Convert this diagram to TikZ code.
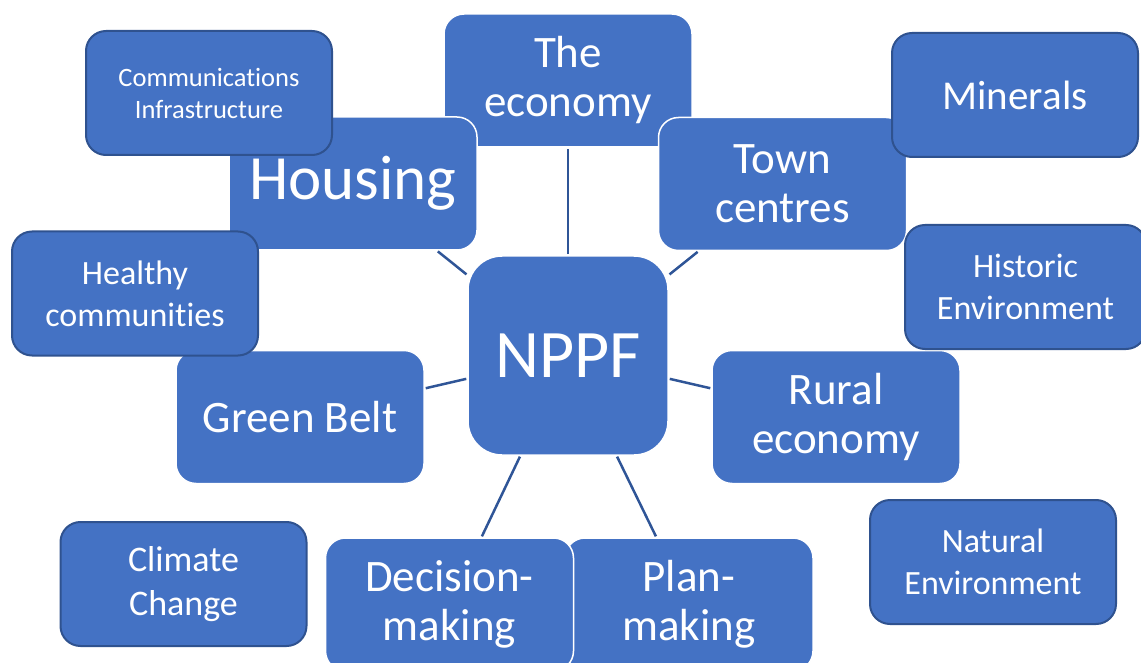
\documentclass[tikz,border=0pt]{standalone}
\usepackage{fontspec}
\setmainfont{Carlito}[Ligatures=NoCommon, RawFeature={-liga;-calt}]
\definecolor{boxblue}{HTML}{4472C4}
\definecolor{edgeblue}{HTML}{2F528F}
\definecolor{linkblue}{HTML}{2F5597}
\tikzstyle{topic} = [fill=boxblue, draw=white, line width=1.5pt, rounded corners=20pt, text=white, align=center, minimum width=248pt, minimum height=133pt, inner sep=0pt]
\tikzstyle{centre} = [topic, minimum width=200pt, minimum height=199pt, rounded corners=34pt]
\tikzstyle{extra} = [fill=boxblue, draw=edgeblue, line width=2pt, rounded corners=20pt, text=white, align=center, minimum width=246pt, minimum height=124pt, inner sep=0pt]
\tikzstyle{link} = [draw=linkblue, line width=2.5pt, shorten <=1pt, shorten >=1pt]
\tikzstyle{bigtext} = [font=\fontsize{45}{49}\selectfont]
\tikzstyle{smalltext} = [font=\fontsize{34}{42}\selectfont]

\begin{document}
\begin{tikzpicture}[x=1pt, y=-1pt]
	\useasboundingbox (0,0) rectangle (1141,663);
	\clip (0,0) rectangle (1141,663);
	% spokes round the centre
	\node [topic, bigtext] (economy) at (568,80.5) {The\\economy};
	\node [topic, bigtext] (town) at (782.5,184) {Town\\centres};
	\node [topic, bigtext] (rural) at (836,417) {Rural\\economy};
	\node [topic, bigtext] (plan) at (689,604.5) {Plan-\\making};
	\node [topic, bigtext] (decision) at (449.5,604.5) {Decision-\\making};
	\node [topic, bigtext] (greenbelt) at (300,417) {Green Belt};
	\node [topic, font=\fontsize{63}{66}\selectfont] (housing) at (353,183.5) {Housing};
	\node [centre, font=\fontsize{68}{70}\selectfont] (nppf) at (568,355.5) {NPPF};
	\foreach \spoke in {economy,town,rural,plan,decision,greenbelt,housing}
		\draw [link] (nppf) -- (\spoke);
	% loose topics
	\node [extra, font=\fontsize{26.5}{32}\selectfont] (comms) at (209,93) {Communications\\Infrastructure};
	\node [extra, font=\fontsize{41}{44}\selectfont] (minerals) at (1015,95) {Minerals};
	\node [extra, smalltext, minimum width=241pt] (historic) at (1025.5,287) {Historic\\Environment};
	\node [extra, smalltext] (healthy) at (135,293.5) {Healthy\\communities};
	\node [extra, font=\fontsize{36}{44}\selectfont] (climate) at (183.5,584) {Climate\\Change};
	\node [extra, smalltext] (natural) at (993,562) {Natural\\Environment};
\end{tikzpicture}
\end{document}
